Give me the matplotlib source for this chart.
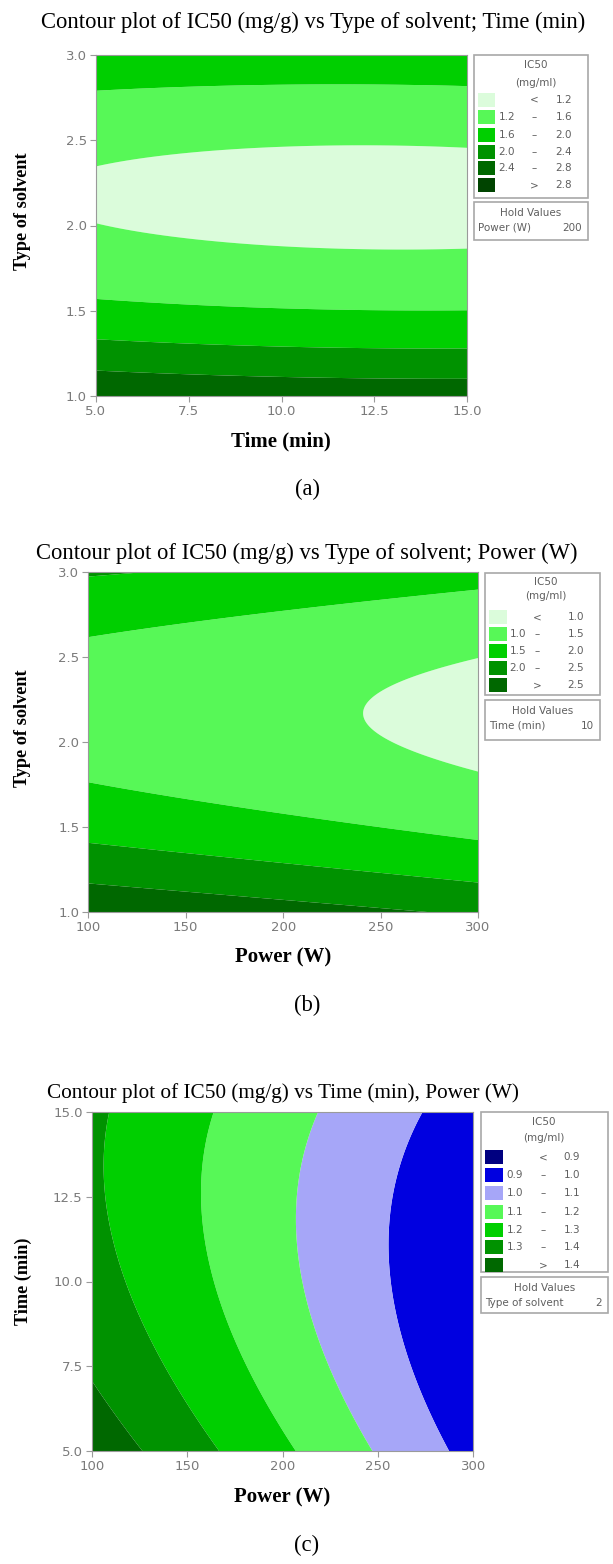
import numpy as np
import matplotlib
matplotlib.use("Agg")
import matplotlib.pyplot as plt
from matplotlib.patches import Rectangle

W, H = 613, 1564

# ---------------- data ----------------
time_ticks = [5.0, 7.5, 10.0, 12.5, 15.0]
solvent_ticks = [1.0, 1.5, 2.0, 2.5, 3.0]
power_ticks = [100, 150, 200, 250, 300]

# fitted quadratic response surfaces: [b0, bx, by, bxx, byy, bxy]
# (a) x = Time-10, y = Solvent-2   (Power held at 200 W)
coef_a = [1.1349, -0.0077, -0.3944, 0.001283, 1.16, 0.0046]
# (b) x = (Power-200)/100, y = Solvent-2   (Time held at 10 min)
coef_b = [1.1225, -0.2151, -0.406, -0.007, 1.16, 0.0348]
# (c) x = (Power-200)/100, y = (Time-10)/5   (Solvent held at 2)
coef_c = [1.1224, -0.2158, -0.0416, 0.0, 0.0533, 0.0331]

levels_a = [1.2, 1.6, 2.0, 2.4, 2.8]
levels_b = [1.0, 1.5, 2.0, 2.5]
levels_c = [0.9, 1.0, 1.1, 1.2, 1.3, 1.4]

colors_a = ['#dbfcdb', '#57f857', '#00cf00', '#009200', '#006800', '#004400']
colors_b = ['#dbfcdb', '#57f857', '#00cf00', '#009200', '#006800']
colors_c = ['#000080', '#0000e0', '#a6a6f8', '#57f857', '#00cf00', '#009200', '#006800']

titles = ["Contour plot of IC50 (mg/g) vs Type of solvent; Time (min)",
          "Contour plot of IC50 (mg/g) vs Type of solvent; Power (W)",
          "Contour plot of IC50 (mg/g) vs Time (min), Power (W)"]
xlabels = ["Time (min)", "Power (W)", "Power (W)"]
ylabels = ["Type of solvent", "Type of solvent", "Time (min)"]
panel_tags = ["(a)", "(b)", "(c)"]
hold_vals = [("Power (W)", "200"), ("Time (min)", "10"), ("Type of solvent", "2")]
legend_title = ["IC50", "(mg/ml)"]

# ---------------- helpers ----------------
def surface(coef, X, Y):
    b0, bx, by, bxx, byy, bxy = coef
    return b0 + bx * X + by * Y + bxx * X ** 2 + byy * Y ** 2 + bxy * X * Y


def px_axes(fig, x0, y0, x1, y1, **kw):
    return fig.add_axes([x0 / W, 1 - y1 / H, (x1 - x0) / W, (y1 - y0) / H], **kw)


def style_axes(ax):
    for sp in ax.spines.values():
        sp.set_color('#9a9a9a')
        sp.set_linewidth(0.8)
    ax.tick_params(direction='out', length=4, width=0.8, color='#9a9a9a',
                   labelcolor='#7a7a7a', labelsize=9.5, pad=2.5)
    for lab in ax.get_xticklabels() + ax.get_yticklabels():
        lab.set_family('DejaVu Sans')


def filled(ax, Xg, Yg, Z, levels, colors):
    lo = min(Z.min(), levels[0]) - 1
    hi = max(Z.max(), levels[-1]) + 1
    ax.contourf(Xg, Yg, Z, levels=[lo] + list(levels) + [hi], colors=colors,
                antialiased=True)


fig = plt.figure(figsize=(W / 100, H / 100), dpi=100)
fig.patch.set_facecolor('white')

# ---------------- panel (a) ----------------
ax_a = px_axes(fig, 95.7, 55, 467.3, 396)
t = np.linspace(time_ticks[0], time_ticks[-1], 400)
s = np.linspace(solvent_ticks[0], solvent_ticks[-1], 400)
T, S = np.meshgrid(t, s)
filled(ax_a, T, S, surface(coef_a, T - 10, S - 2), levels_a, colors_a)
ax_a.set_xlim(time_ticks[0], time_ticks[-1])
ax_a.set_ylim(solvent_ticks[0], solvent_ticks[-1])
ax_a.set_xticks(time_ticks)
ax_a.set_xticklabels([f"{v:.1f}" for v in time_ticks])
ax_a.set_yticks(solvent_ticks)
ax_a.set_yticklabels([f"{v:.1f}" for v in solvent_ticks])
style_axes(ax_a)

# ---------------- panel (b) ----------------
ax_b = px_axes(fig, 88.3, 572, 478, 912)
p = np.linspace(power_ticks[0], power_ticks[-1], 400)
P, S2 = np.meshgrid(p, s)
filled(ax_b, P, S2, surface(coef_b, (P - 200) / 100, S2 - 2), levels_b, colors_b)
ax_b.set_xlim(power_ticks[0], power_ticks[-1])
ax_b.set_ylim(solvent_ticks[0], solvent_ticks[-1])
ax_b.set_xticks(power_ticks)
ax_b.set_xticklabels([str(v) for v in power_ticks])
ax_b.set_yticks(solvent_ticks)
ax_b.set_yticklabels([f"{v:.1f}" for v in solvent_ticks])
style_axes(ax_b)

# ---------------- panel (c) ----------------
ax_c = px_axes(fig, 91.7, 1112, 473.3, 1451)
P3, T3 = np.meshgrid(p, t)
filled(ax_c, P3, T3, surface(coef_c, (P3 - 200) / 100, (T3 - 10) / 5), levels_c, colors_c)
ax_c.set_xlim(power_ticks[0], power_ticks[-1])
ax_c.set_ylim(time_ticks[0], time_ticks[-1])
ax_c.set_xticks(power_ticks)
ax_c.set_xticklabels([str(v) for v in power_ticks])
ax_c.set_yticks(time_ticks)
ax_c.set_yticklabels([f"{v:.1f}" for v in time_ticks])
style_axes(ax_c)

# ---------------- overlay for text & legends ----------------
ov = fig.add_axes([0, 0, 1, 1], zorder=10)
ov.set_xlim(0, W)
ov.set_ylim(H, 0)
ov.axis('off')

serif = 'Liberation Serif'
title_pos = [(41, 22), (36, 553), (47, 1093)]
title_objs = [ov.text(x, y, txt, family=serif, fontsize=13, ha='left', va='center',
                      color='black') for txt, (x, y) in zip(titles, title_pos)]

xl_pos = [(281, 441), (283, 957), (282, 1497)]
xl_objs = [ov.text(x, y, l, family=serif, fontweight='bold', fontsize=13,
                   ha='center', va='center') for l, (x, y) in zip(xlabels, xl_pos)]
yl_pos = [(23, 211), (23, 728), (23, 1281)]
yl_objs = [ov.text(x, y, l, family=serif, fontweight='bold', fontsize=13,
                   ha='center', va='center', rotation=90) for l, (x, y) in zip(ylabels, yl_pos)]
tag_pos = [(307, 489), (307, 1005), (307, 1545)]
tag_objs = [ov.text(x, y, l, family=serif, fontsize=13, ha='center', va='center')
            for l, (x, y) in zip(panel_tags, tag_pos)]

LEG_FS = 7.5
LEG_C = '#5f5f5f'


def draw_legend(box, title_ys, title_x, rows_y, sw, cols, levels, colors, hbox, hold):
    x0, y0, x1, y1 = box
    ov.add_patch(Rectangle((x0, y0), x1 - x0, y1 - y0, fill=False,
                           edgecolor='#a8a8a8', lw=1.2))
    for ty, tt in zip(title_ys, legend_title):
        ov.text(title_x, ty, tt, fontsize=LEG_FS, color=LEG_C, ha='center', va='center',
                family='DejaVu Sans')
    lo_r, dash_c, hi_r = cols
    n = len(levels)
    for i, (ry, col) in enumerate(zip(rows_y, colors)):
        ov.add_patch(Rectangle((sw[0], ry - 7), sw[1] - sw[0], 14, facecolor=col,
                               edgecolor='none'))
        if i == 0:
            ov.text(dash_c, ry, "<", fontsize=LEG_FS, color=LEG_C, ha='center', va='center')
            ov.text(hi_r, ry, f"{levels[0]:.1f}", fontsize=LEG_FS, color=LEG_C,
                    ha='right', va='center')
        elif i == n:
            ov.text(dash_c, ry, ">", fontsize=LEG_FS, color=LEG_C, ha='center', va='center')
            ov.text(hi_r, ry, f"{levels[-1]:.1f}", fontsize=LEG_FS, color=LEG_C,
                    ha='right', va='center')
        else:
            ov.text(lo_r, ry, f"{levels[i - 1]:.1f}", fontsize=LEG_FS, color=LEG_C,
                    ha='right', va='center')
            ov.text(dash_c, ry, "\u2013", fontsize=LEG_FS, color=LEG_C, ha='center', va='center')
            ov.text(hi_r, ry, f"{levels[i]:.1f}", fontsize=LEG_FS, color=LEG_C,
                    ha='right', va='center')
    hx0, hy0, hx1, hy1 = hbox
    ov.add_patch(Rectangle((hx0, hy0), hx1 - hx0, hy1 - hy0, fill=False,
                           edgecolor='#a8a8a8', lw=1.2))
    ov.text((hx0 + hx1) / 2, hy0 + 11, "Hold Values", fontsize=LEG_FS, color=LEG_C,
            ha='center', va='center')
    ov.text(hx0 + 4, hy0 + 26, hold[0], fontsize=LEG_FS, color=LEG_C, ha='left', va='center')
    ov.text(hx1 - 6, hy0 + 26, hold[1], fontsize=LEG_FS, color=LEG_C, ha='right', va='center')


draw_legend((474, 55, 588, 198), (65, 83), 536, [100, 117, 135, 152, 168, 185],
            (478, 495), (515, 534, 572), levels_a, colors_a, (474, 202, 588, 240), hold_vals[0])
draw_legend((485, 573, 600, 695), (582, 596), 546, [617, 634, 651, 668, 685],
            (489, 507), (526, 537, 584), levels_b, colors_b, (485, 700, 600, 740), hold_vals[1])
draw_legend((481, 1112, 608, 1272), (1122, 1138), 544,
            [1157, 1175, 1193, 1212, 1230, 1247, 1265],
            (485, 503), (523, 543, 580), levels_c, colors_c, (481, 1277, 608, 1313), hold_vals[2])

# fit text sizes to measured extents in the reference
fig.canvas.draw()
r = fig.canvas.get_renderer()


def fit(obj, target, vertical=False):
    ext = obj.get_window_extent(r)
    size = ext.height if vertical else ext.width
    return obj.get_fontsize() * target / size


tsize = fit(title_objs[0], 540)
for o in title_objs[:2] + tag_objs:
    o.set_fontsize(tsize)
title_objs[2].set_fontsize(fit(title_objs[2], 470))
xsize = fit(xl_objs[0], 100)
for o in xl_objs:
    o.set_fontsize(xsize)
ysize = fit(yl_objs[0], 117, vertical=True)
for o in yl_objs:
    o.set_fontsize(ysize)

fig.savefig("out.png", dpi=100, facecolor='white')
